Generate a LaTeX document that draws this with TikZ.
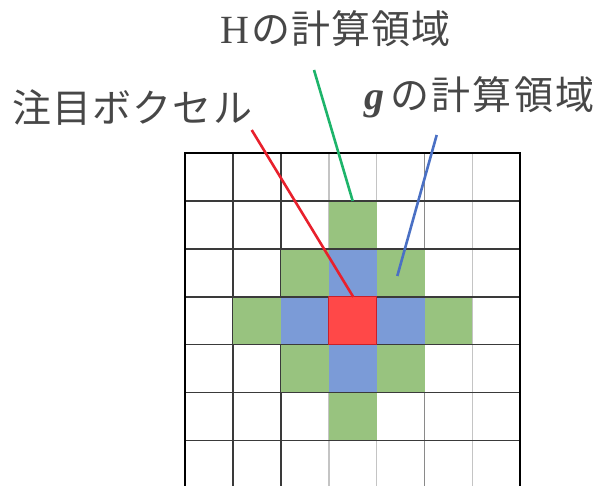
\documentclass[tikz,border=0pt]{standalone}
\usepackage{fontspec}
\newfontfamily\jpfont{Noto Sans CJK JP}[LetterSpace=3]
\newfontfamily\jpwide{Noto Sans CJK JP}[LetterSpace=6]
\newfontfamily\serfont{Liberation Serif}
\definecolor{cellgreen}{HTML}{98C37F}
\definecolor{cellblue}{HTML}{7B9BD7}
\definecolor{cellred}{HTML}{FF4848}
\definecolor{redborder}{HTML}{C8202A}
\definecolor{linered}{HTML}{E8202C}
\definecolor{linegreen}{HTML}{1DB46A}
\definecolor{lineblue}{HTML}{4A70C4}
\definecolor{gdark}{HTML}{3A3A3A}
\definecolor{gmid}{HTML}{8A8A8A}
\definecolor{glight}{HTML}{C4C4C4}
\tikzset{
  lbl/.style={inner sep=0pt, anchor=base west, text=black!72},
  leader/.style={line width=2.6pt},
}
\newcommand{\cellfill}[3]{\fill[#3] (185+47.9*#1,153+47.9*#2) rectangle ++(47.9,47.9);}
\begin{document}
\begin{tikzpicture}[x=1pt,y=-1pt]
\useasboundingbox (0,0) rectangle (599,486);
\clip (0,0) rectangle (599,486);
% vertical interior lines (under fills)
\foreach \i/\c in {1/gdark,2/gdark,3/glight,4/glight,5/gmid,6/glight}
  \draw[\c, line width=1.7pt] (185+47.9*\i,153) -- (185+47.9*\i,500);
% fills
\foreach \cx/\cy in {3/1,2/2,4/2,1/3,5/3,2/4,4/4,3/5} {\cellfill{\cx}{\cy}{cellgreen}}
\foreach \cx/\cy in {3/2,2/3,4/3,3/4} {\cellfill{\cx}{\cy}{cellblue}}
% horizontal interior lines
\foreach \j in {1,...,6}
  \draw[gdark, line width=1.6pt] (185,153+47.9*\j) -- (520,153+47.9*\j);
% red cell
\draw[redborder, fill=cellred, line width=1.5pt] (185+47.9*3,153+47.9*3) rectangle ++(47.9,47.9);
% outer border
\draw[black, line width=2.3pt] (185,500) -- (185,153) -- (520,153) -- (520,500);
% labels
\node[lbl] (hlab) at (220,44) {\serfont\fontsize{40}{44}\selectfont H\hspace{2pt}\jpfont\fontsize{39}{46}\selectfont の計算領域};
\node[lbl] (glab) at (364,110) {\serfont\bfseries\itshape\fontsize{40}{44}\selectfont g\hspace{6pt}\jpwide\mdseries\upshape\fontsize{39}{46}\selectfont の計算領域};
\node[lbl] (vlab) at (12,123) {\jpfont\fontsize{39}{46}\selectfont 注目ボクセル};
% leader endpoints
\coordinate (rs) at (251.7,130);
\coordinate (re) at (353.3,297);
\coordinate (gs) at (314,70);
\coordinate (ge) at (352.7,201);
\coordinate (bs) at (436.7,135);
\coordinate (be) at (397.3,276);
\draw[leader, linered] (rs) -- (re);
\draw[leader, linegreen] (gs) -- (ge);
\draw[leader, lineblue] (bs) -- (be);
\end{tikzpicture}
\end{document}
